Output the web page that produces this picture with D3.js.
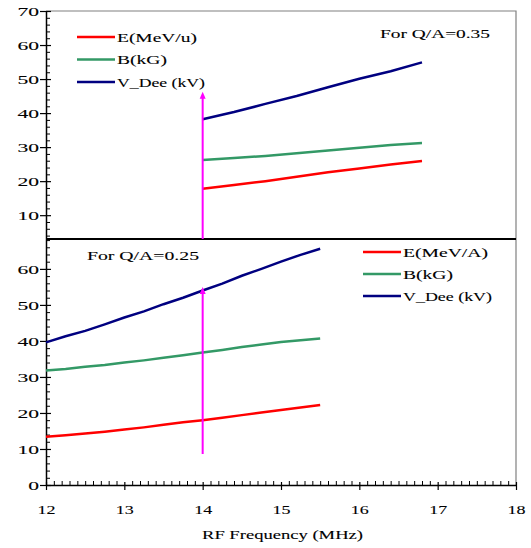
<!DOCTYPE html>
<html>
<head>
<meta charset="utf-8">
<script src="https://cdn.jsdelivr.net/npm/d3@7"></script>
<style>
  body { margin: 0; background: #fff; }
  text { font-family: "Liberation Serif", "Times New Roman", serif; fill: #000; }
</style>
</head>
<body>
<div id="chart"></div>
<script>
// data
const freqTop = [14.0, 14.4, 14.8, 15.2, 15.6, 16.0, 16.4, 16.8];
const eTop = [17.8, 18.9, 20.0, 21.3, 22.6, 23.7, 24.9, 25.9];
const bTop = [26.2, 26.8, 27.4, 28.2, 29.0, 29.8, 30.6, 31.2];
const vTop = [38.2, 40.3, 42.7, 45.0, 47.6, 50.1, 52.3, 54.9];

const freqBottom = [12.0, 12.25, 12.5, 12.75, 13.0, 13.25, 13.5, 13.75, 14.0, 14.25, 14.5, 14.75, 15.0, 15.25, 15.5];
const eBottom = [13.4, 13.8, 14.3, 14.8, 15.4, 16.0, 16.7, 17.4, 18.0, 18.7, 19.4, 20.1, 20.8, 21.5, 22.2];
const bBottom = [31.8, 32.2, 32.8, 33.3, 34.0, 34.6, 35.3, 36.0, 36.8, 37.5, 38.3, 39.0, 39.7, 40.2, 40.7];
const vBottom = [39.6, 41.3, 42.8, 44.6, 46.5, 48.2, 50.2, 52.0, 54.0, 55.9, 58.1, 60.0, 62.0, 63.9, 65.6];

const xTicks = [12, 13, 14, 15, 16, 17, 18];
const yTicksTop = [10, 20, 30, 40, 50, 60, 70];
const yTicksBottom = [0, 10, 20, 30, 40, 50, 60];

const legendTop = ["E(MeV/u)", "B(kG)", "V_Dee (kV)"];
const legendBottom = ["E(MeV/A)", "B(kG)", "V_Dee (kV)"];
const colors = ["#ff0000", "#339966", "#000080"];

// arrows: [freq, from, to]
const arrowTop = [14.0, 3, 46.3];
const arrowBottom = [14.0, 8.6, 55.0];

const W = 531, H = 548;
const pLeft = 46, pRight = 516, pTop = 11, pMid = 239, pBottom = 485;

const svg = d3.select("#chart").append("svg")
  .attr("width", W).attr("height", H);

const x = d3.scaleLinear().domain([12, 18]).range([pLeft, pRight]);
const yTop = d3.scaleLinear().domain([3, 70]).range([pMid, pTop]);
const yBot = d3.scaleLinear().domain([0, 68.3]).range([pBottom, pMid]);

// frame (gray top + right)
svg.append("path")
  .attr("d", `M${pLeft},${pTop}H${pRight}V${pBottom}`)
  .attr("fill", "none").attr("stroke", "#808080").attr("stroke-width", 1.2);

// the original font is wide and tight, so force each label's width
function wide(sel, perChar) {
  sel.attr("font-size", 13)
    .attr("font-family", "Liberation Serif")
    .attr("stroke", "#000").attr("stroke-width", 0.1)
    .attr("lengthAdjust", "spacingAndGlyphs")
    .attr("textLength", function() { return this.textContent.length * perChar; });
}

function yAxis(y, minor, major) {
  svg.append("g").attr("transform", `translate(${pLeft},0)`)
    .call(d3.axisLeft(y).tickValues(minor).tickSize(-4).tickSizeOuter(0).tickFormat(""))
    .call(g => g.select(".domain").attr("stroke-width", 1.5));
  svg.append("g").attr("transform", `translate(${pLeft},0)`)
    .call(d3.axisLeft(y).tickValues(major).tickSize(6).tickSizeOuter(0))
    .call(g => g.select(".domain").remove())
    .call(g => g.selectAll(".tick line").attr("x2", -6).attr("x1", 5).attr("stroke-width", 1.2))
    .call(g => g.selectAll(".tick text").attr("x", -7).attr("dy", "0.35em").call(wide, 10.8));
}
yAxis(yTop, d3.range(4, 71, 2).filter(d => d % 10 !== 0), yTicksTop);
yAxis(yBot, d3.range(2, 69, 2).filter(d => d % 10 !== 0), yTicksBottom);

// x axis
const minorX = d3.range(121, 181).filter(d => d % 10 !== 0).map(d => d / 10);
svg.append("g").attr("transform", `translate(0,${pBottom})`)
  .call(d3.axisBottom(x).tickValues(minorX).tickSize(-4).tickSizeOuter(0).tickFormat(""))
  .call(g => g.select(".domain").attr("stroke-width", 1.5));
svg.append("g").attr("transform", `translate(0,${pBottom})`)
  .call(d3.axisBottom(x).tickValues(xTicks).tickSize(5).tickSizeOuter(0).tickFormat(d3.format("d")))
  .call(g => g.select(".domain").remove())
  .call(g => g.selectAll(".tick line").attr("y1", -3).attr("stroke-width", 1.2))
  .call(g => g.selectAll(".tick text").attr("y", 29).attr("dy", 0).call(wide, 9));

// separator between panels
svg.append("line")
  .attr("x1", pLeft).attr("x2", pRight).attr("y1", pMid).attr("y2", pMid)
  .attr("stroke", "#000").attr("stroke-width", 2);

// series
function drawSeries(freqs, series, y) {
  series.forEach((vals, i) => {
    const line = d3.line().x((d, j) => x(freqs[j])).y(d => y(d));
    svg.append("path").datum(vals)
      .attr("d", line)
      .attr("fill", "none")
      .attr("stroke", colors[i])
      .attr("stroke-width", 2.5);
  });
}
drawSeries(freqTop, [eTop, bTop, vTop], yTop);
drawSeries(freqBottom, [eBottom, bBottom, vBottom], yBot);

// arrows
function drawArrow(a, y) {
  const ax = x(a[0]), y0 = y(a[1]), y1 = y(a[2]);
  svg.append("line")
    .attr("x1", ax).attr("x2", ax)
    .attr("y1", y0).attr("y2", y1 + 6)
    .attr("stroke", "#ff00ff").attr("stroke-width", 2);
  svg.append("path")
    .attr("d", `M${ax - 3},${y1 + 7}L${ax},${y1}L${ax + 3},${y1 + 7}Z`)
    .attr("fill", "#ff00ff");
}
drawArrow(arrowTop, yTop);
drawArrow(arrowBottom, yBot);

// text helper, w = rendered width in px
function label(txt, px, py, anchor, w) {
  svg.append("text")
    .attr("x", px).attr("y", py)
    .attr("dy", "0.35em")
    .style("text-anchor", anchor)
    .text(txt)
    .call(wide, w / txt.length);
}

// legends
function legend(labels, widths, lx, ly, gap) {
  labels.forEach((t, i) => {
    const yy = ly + i * gap;
    svg.append("line")
      .attr("x1", lx).attr("x2", lx + 38)
      .attr("y1", yy).attr("y2", yy)
      .attr("stroke", colors[i]).attr("stroke-width", 2.5);
    label(t, lx + 40, yy, "start", widths[i]);
  });
}
legend(legendTop, [80, 50, 88], 77, 37, 22.5);
legend(legendBottom, [85, 50, 89], 363, 252, 22);

label("For Q/A=0.35", 380, 33, "start", 110);
label("For Q/A=0.25", 87, 255, "start", 112);
label("RF Frequency (MHz)", 202, 534, "start", 161);
</script>
</body>
</html>
